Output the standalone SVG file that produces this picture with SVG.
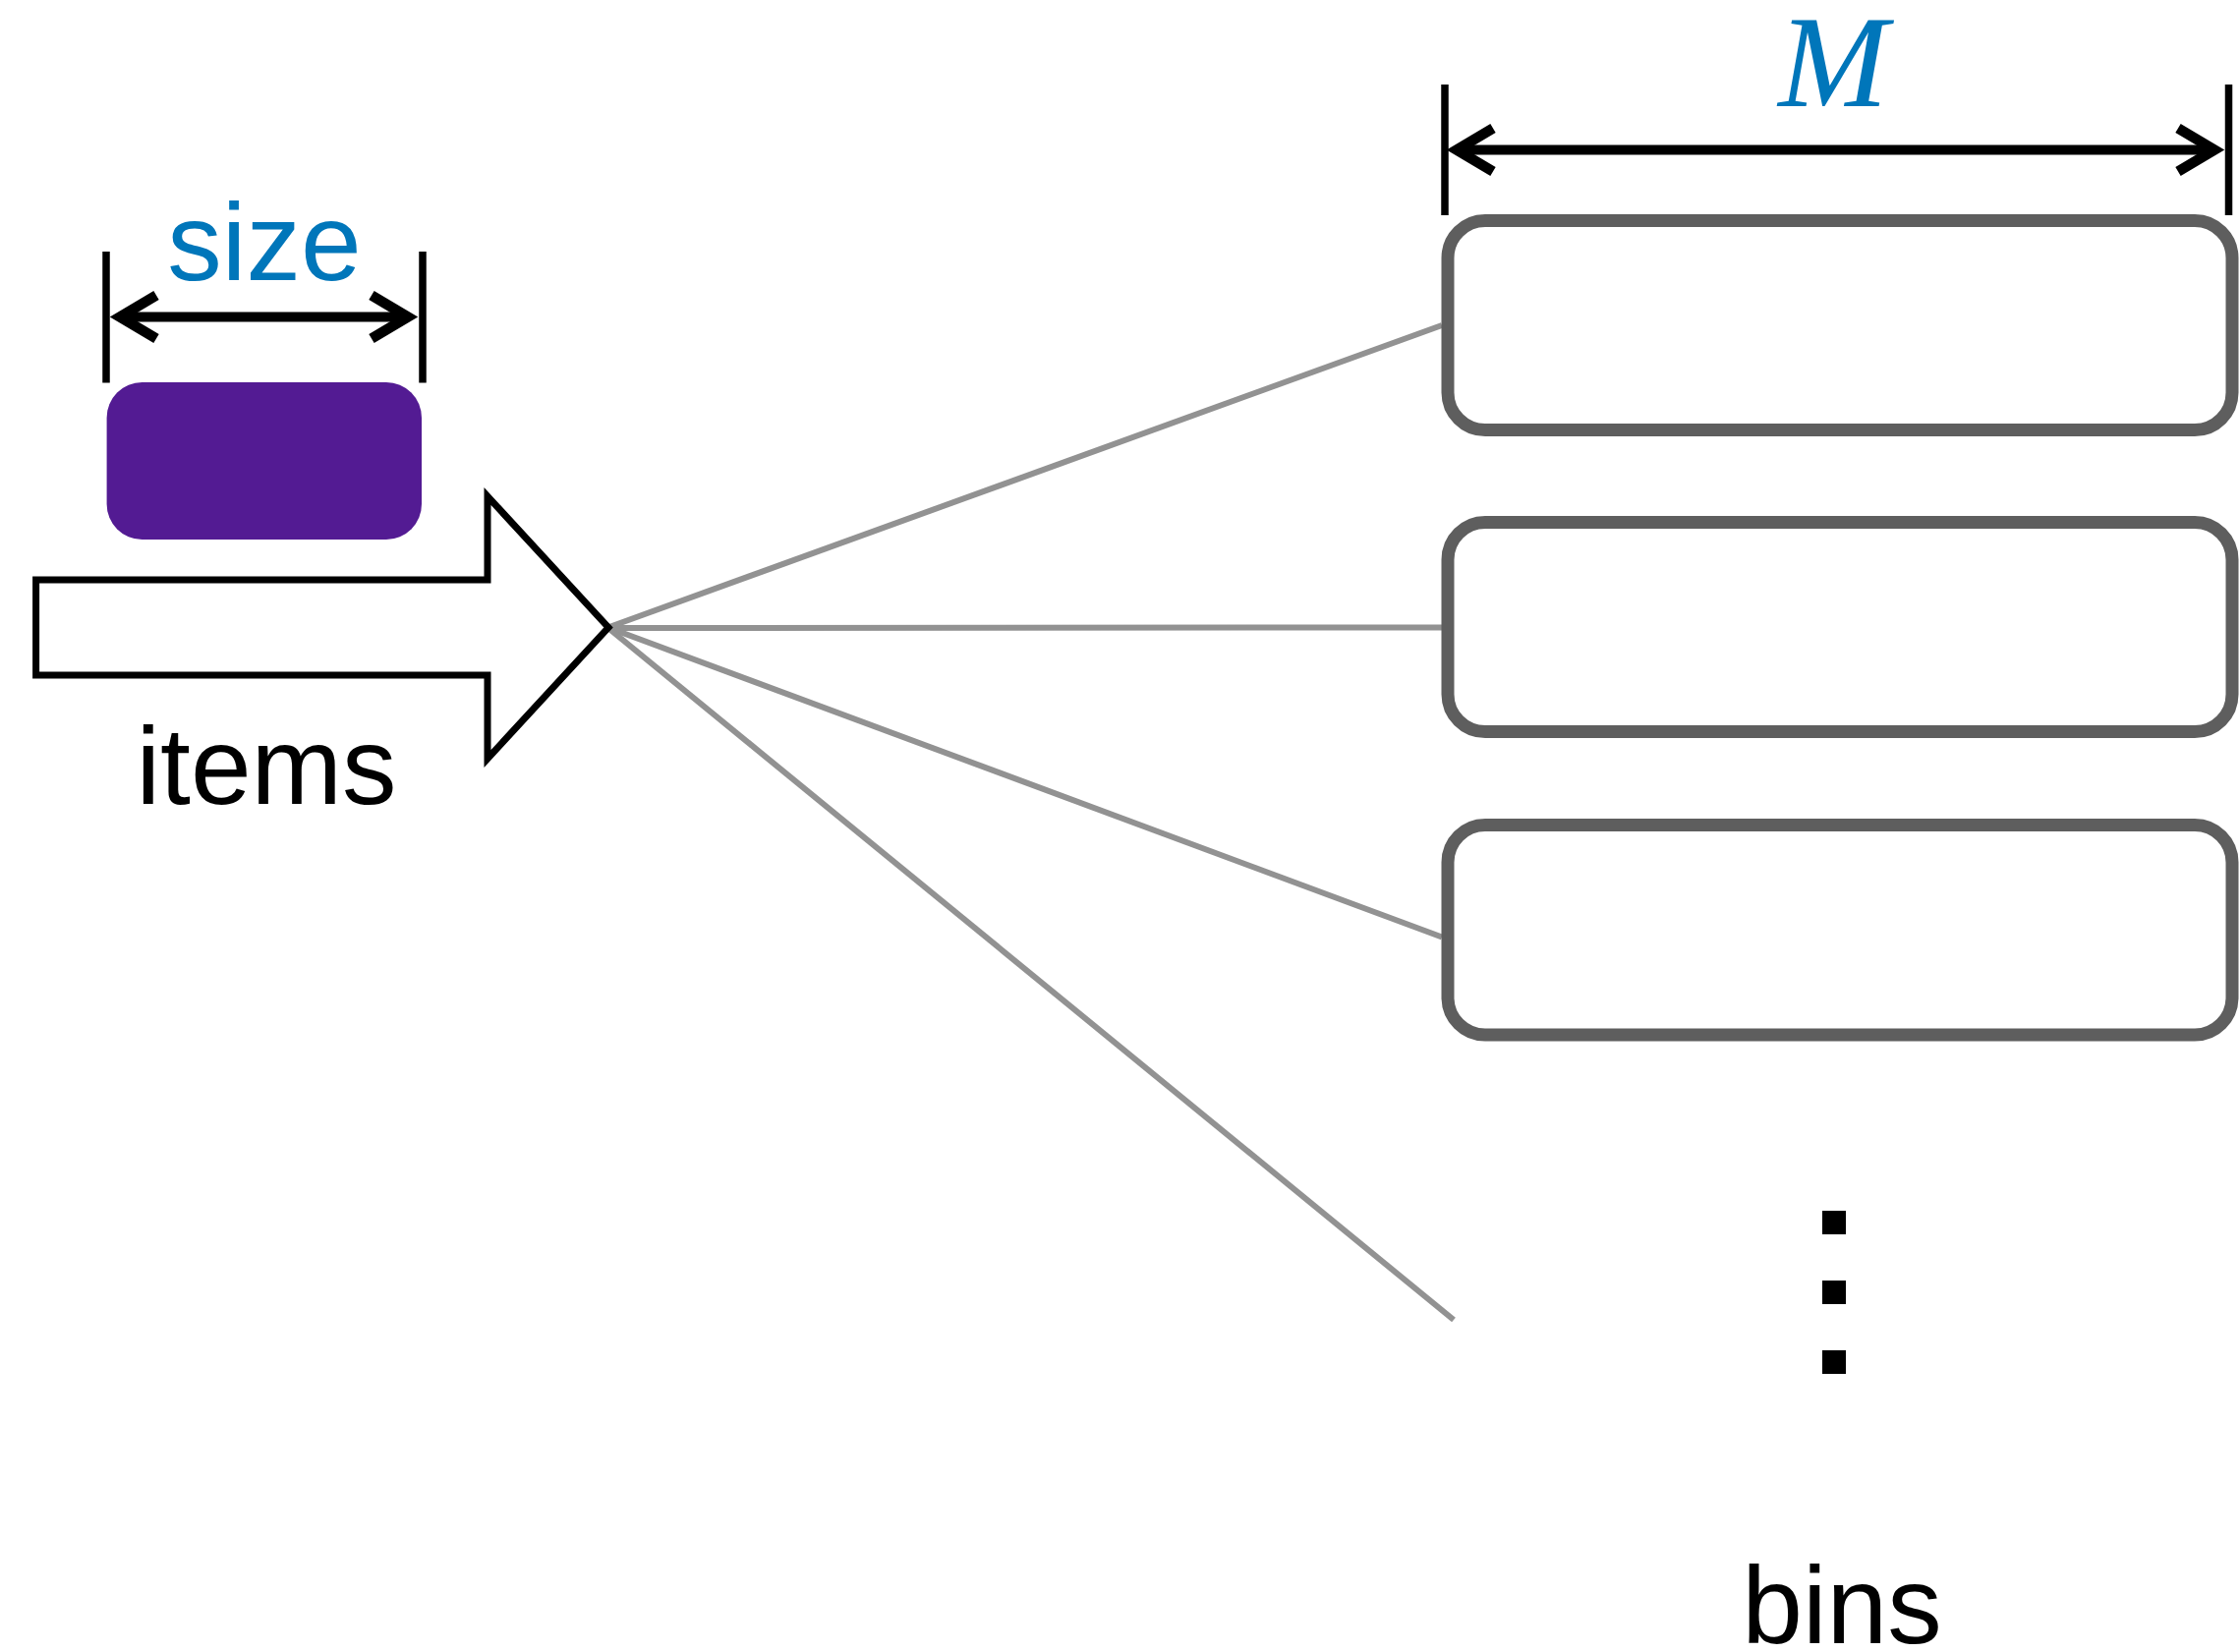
<svg xmlns="http://www.w3.org/2000/svg" width="2279" height="1681" viewBox="0 0 2279 1681">
  <style>
    .label { font-family: "Liberation Sans", Arial, Helvetica, sans-serif; font-size: 111px; fill: #000000; }
    .blue { fill: #0076BA; }
    .tick { stroke: #000000; stroke-width: 7.5; fill: none; }
    .dim { stroke: #000000; stroke-width: 10; fill: none; marker-start: url(#chev); marker-end: url(#chev); }
    .bin { fill: #FFFFFF; stroke: #5E5E5E; stroke-width: 13; }
    .link { stroke: #929292; stroke-width: 6; fill: none; }
  </style>
  <defs>
    <!-- open chevron arrowhead; its vertex sits on the line end, the mitred point reaches 10px further -->
    <marker id="chev" markerUnits="userSpaceOnUse" markerWidth="80" markerHeight="80" viewBox="-50 -40 80 80" refX="0" refY="0" orient="auto-start-reverse" overflow="visible">
      <path d="M -37 -22 L 0 0 L -37 22" fill="none" stroke="#000000" stroke-width="10.5" stroke-linejoin="miter" stroke-miterlimit="10"/>
    </marker>
  </defs>
  <rect width="2279" height="1681" fill="#FFFFFF"/>

  <!-- connectors from the item arrow to the bins -->
  <g id="connectors">
    <line class="link" x1="620" y1="638" x2="1467" y2="331"/>
    <line class="link" x1="620" y1="639" x2="1467" y2="638.5"/>
    <line class="link" x1="620" y1="639" x2="1467" y2="953.5"/>
    <line class="link" x1="620" y1="640" x2="1479" y2="1343"/>
  </g>

  <!-- item size dimension -->
  <g id="size-dimension">
    <line class="tick" x1="108" y1="256" x2="108" y2="389.5"/>
    <line class="tick" x1="430" y1="256" x2="430" y2="389.5"/>
    <line class="dim" x1="122" y1="322.5" x2="415" y2="322.5"/>
    <text class="label blue" x="269" y="285" text-anchor="middle">size</text>
  </g>

  <!-- a single item -->
  <g id="item">
    <rect x="108.6" y="389" width="320.4" height="160" rx="36" ry="36" fill="#531B93"/>
  </g>

  <!-- stream of items -->
  <g id="items-arrow">
    <polygon points="36.6,590 496,590 496,505 619,638.5 496,772 496,687 36.6,687" fill="#FFFFFF" stroke="#000000" stroke-width="7" stroke-linejoin="miter"/>
    <text class="label" x="271" y="817.5" text-anchor="middle">items</text>
  </g>

  <!-- bin capacity dimension -->
  <g id="capacity-dimension">
    <line class="tick" x1="1470" y1="86" x2="1470" y2="219"/>
    <line class="tick" x1="2267.5" y1="86" x2="2267.5" y2="219"/>
    <line class="dim" x1="1482" y1="152.5" x2="2253" y2="152.5"/>
    <text x="1865" y="107.5" text-anchor="middle" font-family="'Liberation Serif', 'Times New Roman', serif" font-style="italic" font-size="134" fill="#0076BA">M</text>
  </g>

  <!-- bins -->
  <g id="bin-1">
    <rect class="bin" x="1473" y="224.5" width="798" height="213" rx="38" ry="38"/>
  </g>
  <g id="bin-2">
    <rect class="bin" x="1473" y="531.5" width="798" height="213" rx="38" ry="38"/>
  </g>
  <g id="bin-3">
    <rect class="bin" x="1473" y="839.5" width="798" height="213.5" rx="38" ry="38"/>
  </g>

  <!-- more bins follow -->
  <g id="ellipsis">
    <rect x="1854" y="1232" width="24" height="24" fill="#000000"/>
    <rect x="1854" y="1303" width="24" height="24" fill="#000000"/>
    <rect x="1854" y="1374" width="24" height="24" fill="#000000"/>
  </g>

  <g id="bins-label">
    <text class="label" x="1874" y="1672" text-anchor="middle">bins</text>
  </g>
</svg>
